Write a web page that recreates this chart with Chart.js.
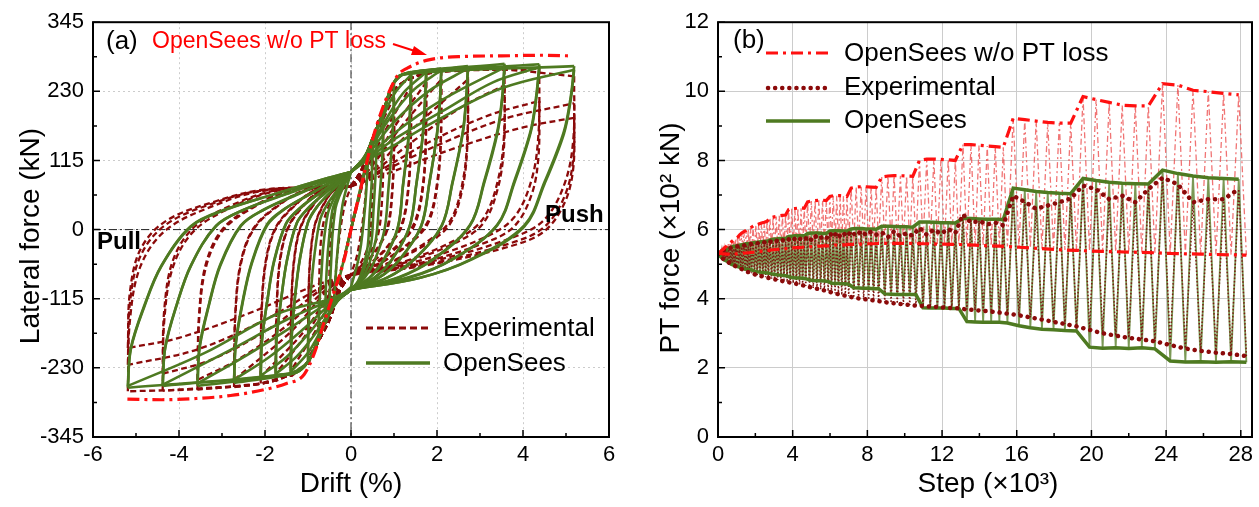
<!DOCTYPE html>
<html><head><meta charset="utf-8">
<script src="https://cdn.jsdelivr.net/npm/chart.js@4.4.0/dist/chart.umd.min.js"></script>
<style>
html,body{margin:0;padding:0;background:#fff;width:1259px;height:507px;overflow:hidden}
#ca{position:absolute;left:0;top:0}
#cb{position:absolute;left:630px;top:0}
</style></head><body>
<canvas id="ca" width="630" height="507"></canvas>
<canvas id="cb" width="629" height="507"></canvas>
<script>
// ---------------- Panel (a): hysteresis ----------------
const driftTicks = [-6,-4,-2,0,2,4,6];
const driftMinor = [-5,-3,-1,1,3,5];
const forceTicks = [-345,-230,-115,0,115,230,345];
const forceMinor = [-287.5,-172.5,-57.5,57.5,172.5,287.5];

// OpenSees w/o PT loss (envelope visible in the figure)
const noLossDrift = [-5.2,-4.4,-3.6,-2.8,-2.0,-1.5,-1.09,-0.85,-0.62,-0.4,-0.155,0,0.2,0.47,0.7,0.93,1.1,1.32,1.78,2.63,3.5,4.4,5.12];
const noLossForce = [-282,-283,-281,-276,-266,-256,-241,-205,-153,-105,-49,0,60,142,195,236,258,269,282,288,289,290,289];

// OpenSees (green) branches [drift %, force kN]
const openSeesLoops = [
 [[-0.1,-30],[0.1,32]],
 [[-0.3,-90],[0,0],[0.3,95]],
 [[0,0],[0.2,60],[0.4,122]],
 [[0.4,122],[0.33,40],[0.2,-40],[0,-96]],
 [[0,-96],[-0.2,-108],[-0.4,-128]],
 [[-0.4,-128],[-0.33,-50],[-0.2,40],[0,96]],
 [[0,96],[0.3,118],[0.5,152]],
 [[0.5,152],[0.49,118],[0.48,78],[0.43,22],[0.39,-27],[0.27,-66],[0.16,-86],[0,-100]],
 [[0,-100],[-0.35,-120],[-0.5,-141]],
 [[-0.5,-141],[-0.49,-99],[-0.46,-51],[-0.43,-8],[-0.36,36],[-0.28,54],[-0.17,72],[-0.06,88],[0,96]],
 [[0,96],[0.3,118],[0.55,160],[0.6,168]],
 [[0.6,168],[0.59,131],[0.57,90],[0.52,29],[0.47,-23],[0.32,-63],[0.19,-85],[0,-100]],
 [[0,-100],[-0.35,-120],[-0.6,-155]],
 [[-0.6,-155],[-0.59,-110],[-0.56,-60],[-0.51,-14],[-0.43,33],[-0.34,51],[-0.21,70],[-0.07,88],[0,96]],
 [[0,96],[0.3,118],[0.55,160],[0.75,195]],
 [[0.75,195],[0.74,155],[0.72,109],[0.65,42],[0.58,-15],[0.41,-60],[0.23,-84],[0,-100]],
 [[0,-100],[-0.35,-120],[-0.6,-155],[-0.75,-181]],
 [[-0.75,-181],[-0.74,-132],[-0.69,-76],[-0.64,-25],[-0.54,26],[-0.43,47],[-0.26,68],[-0.09,87],[0,96]],
 [[0,96],[0.3,118],[0.55,160],[0.75,195],[0.95,238],[1.0,243]],
 [[1.0,243],[0.985,196],[0.954,143],[0.867,65],[0.776,-1],[0.54,-53],[0.31,-81],[0,-100]],
 [[0,-100],[-0.35,-120],[-0.6,-155],[-0.8,-190],[-1.0,-220]],
 [[-1.0,-220],[-0.99,-164],[-0.93,-100],[-0.85,-42],[-0.72,16],[-0.57,40],[-0.34,64],[-0.12,86],[0,96]],
 [[0,96],[0.3,118],[0.55,160],[0.75,195],[0.95,238],[1.2,258],[1.4,262]],
 [[1.4,262],[1.38,212],[1.34,156],[1.21,75],[1.09,4],[0.76,-50],[0.43,-80],[0,-100]],
 [[0,-100],[-0.35,-120],[-0.6,-155],[-0.8,-190],[-1.0,-220],[-1.3,-236],[-1.4,-238]],
 [[-1.4,-238],[-1.38,-179],[-1.3,-111],[-1.19,-50],[-1.0,12],[-0.8,37],[-0.48,62],[-0.17,85],[0,96]],
 [[0,96],[0.3,120],[0.65,172],[1.0,225],[1.4,258]],
 [[1.4,258],[1.38,209],[1.34,153],[1.21,73],[1.09,3],[0.76,-51],[0.43,-80],[0,-100]],
 [[0,-100],[-0.35,-122],[-0.7,-168],[-1.0,-205],[-1.4,-236]],
 [[-1.4,-236],[-1.38,-177],[-1.3,-110],[-1.19,-49],[-1.0,12],[-0.8,37],[-0.48,62],[-0.17,85],[0,96]],
 [[0,96],[0.3,118],[0.55,160],[0.75,195],[0.95,238],[1.2,258],[1.75,265]],
 [[1.75,265],[1.72,215],[1.67,158],[1.52,76],[1.36,5],[0.95,-50],[0.54,-80],[0,-100]],
 [[0,-100],[-0.35,-120],[-0.6,-155],[-0.8,-190],[-1.0,-220],[-1.3,-238],[-1.75,-242]],
 [[-1.75,-242],[-1.73,-182],[-1.62,-114],[-1.49,-52],[-1.26,11],[-0.99,36],[-0.6,61],[-0.21,85],[0,96]],
 [[0,96],[0.3,120],[0.75,175],[1.2,226],[1.75,262]],
 [[1.75,262],[1.72,212],[1.67,156],[1.52,75],[1.36,4],[0.95,-50],[0.54,-80],[0,-100]],
 [[0,-100],[-0.35,-122],[-0.8,-170],[-1.25,-210],[-1.75,-240]],
 [[-1.75,-240],[-1.73,-180],[-1.62,-113],[-1.49,-51],[-1.26,11],[-0.99,36],[-0.6,61],[-0.21,85],[0,96]],
 [[0,96],[0.3,118],[0.55,160],[0.75,195],[0.95,238],[1.2,258],[2.1,268]],
 [[2.1,268],[2.07,218],[2.0,160],[1.82,77],[1.63,6],[1.13,-50],[0.65,-80],[0,-100]],
 [[0,-100],[-0.35,-120],[-0.6,-155],[-0.8,-190],[-1.0,-220],[-1.3,-238],[-2.1,-246]],
 [[-2.1,-246],[-2.07,-185],[-1.94,-116],[-1.79,-54],[-1.51,10],[-1.19,35],[-0.72,61],[-0.25,85],[0,96]],
 [[0,96],[0.3,118],[0.85,180],[1.45,232],[2.1,265]],
 [[2.1,265],[2.07,215],[2.0,158],[1.82,76],[1.63,5],[1.13,-50],[0.65,-80],[0,-100]],
 [[0,-100],[-0.4,-122],[-0.95,-170],[-1.5,-212],[-2.1,-243]],
 [[-2.1,-243],[-2.07,-183],[-1.94,-115],[-1.79,-52],[-1.51,10],[-1.19,36],[-0.72,61],[-0.25,85],[0,96]],
 [[0,96],[0.3,118],[0.55,160],[0.75,195],[0.95,238],[1.2,258],[2.72,272]],
 [[2.72,272],[2.68,221],[2.6,163],[2.36,79],[2.11,7],[1.47,-49],[0.84,-80],[0,-100]],
 [[0,-100],[-0.35,-120],[-0.6,-155],[-0.8,-190],[-1.0,-220],[-1.3,-238],[-2.72,-255]],
 [[-2.72,-255],[-2.68,-192],[-2.52,-122],[-2.31,-57],[-1.95,7],[-1.55,34],[-0.93,60],[-0.33,84],[0,96]],
 [[0,96],[0.3,116],[0.95,175],[1.8,230],[2.72,268]],
 [[2.72,268],[2.68,218],[2.6,160],[2.36,77],[2.11,6],[1.47,-50],[0.84,-80],[0,-100]],
 [[0,-100],[-0.45,-122],[-1.1,-165],[-1.9,-212],[-2.72,-250]],
 [[-2.72,-250],[-2.68,-188],[-2.52,-119],[-2.31,-55],[-1.95,9],[-1.55,34],[-0.93,60],[-0.33,85],[0,96]],
 [[0,96],[0.3,118],[0.55,160],[0.75,195],[0.95,238],[1.2,258],[3.57,276]],
 [[3.57,276],[3.52,224],[3.41,166],[3.1,81],[2.77,8],[1.93,-48],[1.11,-79],[0,-100]],
 [[0,-100],[-0.35,-120],[-0.6,-155],[-0.8,-190],[-1.0,-220],[-1.3,-238],[-3.57,-260]],
 [[-3.57,-260],[-3.52,-197],[-3.3,-125],[-3.04,-60],[-2.56,6],[-2.03,33],[-1.22,59],[-0.43,84],[0,96]],
 [[0,96],[0.3,114],[1.0,160],[2.1,215],[3.57,270]],
 [[3.57,270],[3.52,219],[3.41,162],[3.1,78],[2.77,7],[1.93,-49],[1.11,-80],[0,-100]],
 [[0,-100],[-0.5,-120],[-1.3,-158],[-2.4,-208],[-3.57,-256]],
 [[-3.57,-256],[-3.52,-193],[-3.3,-123],[-3.04,-58],[-2.56,7],[-2.03,33],[-1.22,60],[-0.43,84],[0,96]],
 [[0,96],[0.3,118],[0.55,160],[0.75,195],[0.95,238],[1.2,258],[4.38,275]],
 [[4.38,275],[4.31,224],[4.18,165],[3.8,81],[3.4,8],[2.37,-49],[1.36,-79],[0,-100]],
 [[0,-100],[-0.35,-120],[-0.6,-155],[-0.8,-190],[-1.0,-220],[-1.3,-238],[-4.38,-260]],
 [[-4.38,-260],[-4.32,-197],[-4.05,-125],[-3.72,-60],[-3.14,6],[-2.49,33],[-1.5,59],[-0.53,84],[0,96]],
 [[0,96],[0.3,112],[1.0,150],[2.2,200],[3.3,245],[4.38,270]],
 [[4.38,270],[4.31,219],[4.18,162],[3.8,78],[3.4,7],[2.37,-49],[1.36,-80],[0,-100]],
 [[0,-100],[-0.5,-118],[-1.5,-150],[-2.8,-200],[-4.38,-258]],
 [[-4.38,-258],[-4.32,-195],[-4.05,-124],[-3.72,-59],[-3.14,6],[-2.49,33],[-1.5,60],[-0.53,84],[0,96]],
 [[0,96],[0.3,118],[0.55,160],[0.75,195],[0.95,238],[1.2,258],[5.19,272]],
 [[5.19,272],[5.11,221],[4.95,163],[4.5,79],[4.03,7],[2.8,-49],[1.61,-80],[0,-100]],
 [[0,-100],[-0.35,-120],[-0.6,-155],[-0.8,-190],[-1.0,-220],[-1.3,-238],[-5.19,-263]],
 [[-5.19,-263],[-5.12,-199],[-4.8,-127],[-4.41,-61],[-3.72,5],[-2.95,32],[-1.78,59],[-0.62,84],[0,96]],
 [[0,96],[0.3,112],[1.0,140],[1.9,178],[3.5,235],[5.19,266]],
 [[5.19,266],[5.11,216],[4.95,159],[4.5,76],[4.03,5],[2.8,-50],[1.61,-80],[0,-100]],
 [[0,-100],[-0.5,-116],[-1.7,-140],[-3.4,-205],[-5.19,-260]],
 [[-5.19,-260],[-5.12,-197],[-4.8,-125],[-4.41,-60],[-3.72,6],[-2.95,33],[-1.78,59],[-0.62,84],[0,96]]
];

// Experimental branches [drift %, force kN]
const experimentalLoops = [
 [[-0.15,-45],[0.15,48]],
 [[-0.3,-85],[0,0],[0.3,90]],
 [[0,0],[0.2,55],[0.4,115]],
 [[0.4,115],[0.3,30],[0.15,-40],[0,-75]],
 [[0,-75],[-0.2,-90],[-0.4,-118]],
 [[-0.4,-118],[-0.3,-30],[-0.15,40],[0,72]],
 [[0,72],[0.25,100],[0.5,140]],
 [[0.5,140],[0.5,72],[0.48,24],[0.43,-16],[0.36,-36],[0.18,-61],[0.03,-73],[0,-75]],
 [[0,-75],[-0.25,-100],[-0.5,-140]],
 [[-0.5,-140],[-0.5,-66],[-0.47,-10],[-0.41,27],[-0.3,53],[-0.2,67],[-0.08,71],[0,72]],
 [[0,72],[0.25,100],[0.5,150],[0.75,190]],
 [[0.75,190],[0.75,106],[0.72,47],[0.65,-2],[0.53,-27],[0.27,-57],[0.05,-73],[0,-75]],
 [[0,-75],[-0.25,-100],[-0.5,-150],[-0.75,-185]],
 [[-0.75,-185],[-0.74,-95],[-0.71,-28],[-0.62,18],[-0.45,49],[-0.3,66],[-0.11,71],[0,72]],
 [[0,72],[0.25,100],[0.5,150],[0.75,200],[1.0,235]],
 [[1.0,235],[1.0,136],[0.96,68],[0.87,11],[0.71,-19],[0.36,-54],[0.06,-72],[0,-75]],
 [[0,-75],[-0.25,-100],[-0.5,-150],[-0.75,-185],[-1.0,-225]],
 [[-1.0,-225],[-0.99,-121],[-0.94,-43],[-0.83,9],[-0.6,46],[-0.4,65],[-0.15,71],[0,72]],
 [[0,72],[0.3,100],[0.6,160],[1.0,220]],
 [[1.0,220],[1.0,126],[0.96,61],[0.87,6],[0.71,-21],[0.36,-55],[0.06,-72],[0,-75]],
 [[0,-75],[-0.3,-100],[-0.6,-160],[-1.0,-215]],
 [[-1.0,-215],[-0.99,-115],[-0.94,-39],[-0.83,11],[-0.6,47],[-0.4,65],[-0.15,71],[0,72]],
 [[0,72],[0.25,100],[0.5,150],[0.75,200],[1.0,232],[1.4,255]],
 [[1.4,255],[1.39,150],[1.34,77],[1.21,16],[0.99,-15],[0.5,-53],[0.08,-72],[0,-75]],
 [[0,-75],[-0.25,-100],[-0.5,-150],[-0.75,-185],[-1.0,-220],[-1.4,-245]],
 [[-1.4,-245],[-1.39,-134],[-1.32,-51],[-1.16,5],[-0.84,44],[-0.56,65],[-0.21,71],[0,72]],
 [[0,72],[0.35,100],[0.8,165],[1.4,240]],
 [[1.4,240],[1.39,140],[1.34,70],[1.21,12],[0.99,-18],[0.5,-54],[0.08,-72],[0,-75]],
 [[0,-75],[-0.35,-100],[-0.8,-165],[-1.4,-235]],
 [[-1.4,-235],[-1.39,-128],[-1.32,-47],[-1.16,7],[-0.84,45],[-0.56,65],[-0.21,71],[0,72]],
 [[0,72],[0.25,100],[0.5,150],[0.75,200],[1.0,232],[1.4,252],[1.75,262]],
 [[1.75,262],[1.74,155],[1.68,80],[1.51,18],[1.24,-14],[0.63,-52],[0.1,-72],[0,-75]],
 [[0,-75],[-0.25,-100],[-0.5,-150],[-0.75,-185],[-1.0,-220],[-1.4,-240],[-1.75,-252]],
 [[-1.75,-252],[-1.73,-139],[-1.65,-53],[-1.45,4],[-1.05,44],[-0.7,65],[-0.26,71],[0,72]],
 [[0,72],[0.4,100],[1.0,170],[1.75,245]],
 [[1.75,245],[1.74,143],[1.68,73],[1.51,13],[1.24,-17],[0.63,-54],[0.1,-72],[0,-75]],
 [[0,-75],[-0.4,-100],[-1.0,-170],[-1.75,-240]],
 [[-1.75,-240],[-1.73,-131],[-1.65,-49],[-1.45,6],[-1.05,45],[-0.7,65],[-0.26,71],[0,72]],
 [[0,72],[0.25,100],[0.5,150],[0.75,200],[1.0,232],[1.4,252],[2.1,266]],
 [[2.1,266],[2.09,158],[2.01,82],[1.82,19],[1.49,-13],[0.76,-52],[0.13,-72],[0,-75]],
 [[0,-75],[-0.25,-100],[-0.5,-150],[-0.75,-185],[-1.0,-220],[-1.4,-240],[-2.1,-256]],
 [[-2.1,-256],[-2.08,-142],[-1.98,-55],[-1.74,3],[-1.26,43],[-0.84,65],[-0.32,71],[0,72]],
 [[0,72],[0.4,98],[1.1,165],[2.1,250]],
 [[2.1,250],[2.09,147],[2.01,75],[1.82,15],[1.49,-16],[0.76,-53],[0.13,-72],[0,-75]],
 [[0,-75],[-0.4,-98],[-1.1,-170],[-2.1,-245]],
 [[-2.1,-245],[-2.08,-134],[-1.98,-51],[-1.74,5],[-1.26,44],[-0.84,65],[-0.32,71],[0,72]],
 [[0,72],[0.25,100],[0.5,150],[0.75,200],[1.0,232],[1.4,252],[2.0,262],[2.72,270]],
 [[2.72,270],[2.71,160],[2.61,84],[2.35,20],[1.93,-12],[0.98,-52],[0.16,-72],[0,-75]],
 [[0,-75],[-0.25,-100],[-0.5,-150],[-0.75,-185],[-1.0,-220],[-1.4,-240],[-2.0,-255],[-2.72,-262]],
 [[-2.72,-262],[-2.69,-145],[-2.56,-57],[-2.25,2],[-1.63,43],[-1.09,64],[-0.41,71],[0,72]],
 [[0,72],[0.5,98],[1.4,165],[2.72,250]],
 [[2.72,250],[2.71,147],[2.61,75],[2.35,15],[1.93,-16],[0.98,-53],[0.16,-72],[0,-75]],
 [[0,-75],[-0.5,-98],[-1.4,-170],[-2.72,-250]],
 [[-2.72,-250],[-2.69,-138],[-2.56,-53],[-2.25,4],[-1.63,44],[-1.09,65],[-0.41,71],[0,72]],
 [[0,72],[0.25,100],[0.5,150],[0.75,200],[1.0,232],[1.4,252],[2.0,262],[3.57,268]],
 [[3.57,268],[3.56,159],[3.42,83],[3.09,20],[2.54,-13],[1.29,-52],[0.21,-72],[0,-75]],
 [[0,-75],[-0.25,-100],[-0.5,-150],[-0.75,-185],[-1.0,-220],[-1.4,-240],[-2.0,-255],[-3.57,-266]],
 [[-3.57,-266],[-3.53,-148],[-3.36,-59],[-2.95,1],[-2.14,42],[-1.43,64],[-0.54,71],[0,72]],
 [[0,72],[0.5,95],[1.5,150],[2.6,205],[3.57,240]],
 [[3.57,240],[3.56,140],[3.42,70],[3.09,12],[2.54,-18],[1.29,-54],[0.21,-72],[0,-75]],
 [[0,-75],[-0.5,-95],[-1.5,-160],[-2.6,-215],[-3.57,-250]],
 [[-3.57,-250],[-3.53,-138],[-3.36,-53],[-2.95,4],[-2.14,44],[-1.43,65],[-0.54,71],[0,72]],
 [[0,72],[0.25,100],[0.5,150],[0.75,200],[1.0,232],[1.4,252],[2.0,262],[4.38,268]],
 [[4.38,268],[4.36,159],[4.2,83],[3.79,20],[3.11,-13],[1.58,-52],[0.26,-72],[0,-75]],
 [[0,-75],[-0.25,-100],[-0.5,-150],[-0.75,-185],[-1.0,-220],[-1.4,-240],[-2.0,-255],[-4.38,-268]],
 [[-4.38,-268],[-4.34,-149],[-4.13,-60],[-3.62,0],[-2.63,42],[-1.75,64],[-0.66,71],[0,72]],
 [[0,72],[0.6,95],[1.8,145],[3.2,190],[4.38,214]],
 [[4.38,214],[4.36,122],[4.2,58],[3.79,5],[3.11,-22],[1.58,-56],[0.26,-72],[0,-75]],
 [[0,-75],[-0.6,-95],[-1.8,-160],[-3.2,-215],[-4.38,-240]],
 [[-4.38,-240],[-4.34,-131],[-4.13,-49],[-3.62,6],[-2.63,45],[-1.75,65],[-0.66,71],[0,72]],
 [[0,72],[0.25,100],[0.5,150],[0.75,200],[1.0,232],[1.4,252],[2.0,262],[3.5,266],[5.19,255]],
 [[5.19,255],[5.17,150],[4.97,77],[4.49,16],[3.69,-15],[1.87,-53],[0.31,-72],[0,-75]],
 [[0,-75],[-0.25,-100],[-0.5,-150],[-0.75,-185],[-1.0,-220],[-1.4,-240],[-2.0,-255],[-3.5,-265],[-5.19,-269]],
 [[-5.19,-269],[-5.14,-150],[-4.89,-60],[-4.29,0],[-3.11,42],[-2.08,64],[-0.78,71],[0,72]],
 [[0,72],[0.6,92],[2.0,140],[3.6,185],[5.19,210]],
 [[5.19,210],[5.17,119],[4.97,56],[4.49,4],[3.69,-23],[1.87,-56],[0.31,-72],[0,-75]],
 [[0,-75],[-0.6,-92],[-2.0,-150],[-3.6,-200],[-5.19,-225]],
 [[-5.19,-225],[-5.14,-121],[-4.89,-43],[-4.29,9],[-3.11,46],[-2.08,65],[-0.78,71],[0,72]],
 [[0,72],[0.8,92],[2.4,135],[4.0,170],[5.19,186]],
 [[5.19,186],[5.17,103],[4.97,45],[4.49,-3],[3.69,-28],[1.87,-58],[0.31,-73],[0,-75]],
 [[0,-75],[-0.8,-92],[-2.4,-140],[-4.0,-180],[-5.19,-197]],
 [[-5.19,-197],[-5.14,-103],[-4.89,-32],[-4.29,15],[-3.11,48],[-2.08,66],[-0.78,71],[0,72]]
];

// ---------------- Panel (b): PT force history ----------------
const stepTicks = [0,4,8,12,16,20,24,28];
const stepMinor = [2,6,10,14,18,22,26];
const ptTicks = [0,2,4,6,8,10,12];
const ptMinor = [1,3,5,7,9,11];

// step (x10^3) of each PT force peak and of each return (valley)
const peakSteps = [
 0.04,0.12,0.21,0.29,0.37,0.46, 0.55,0.65,0.75,0.85,0.95,1.05, 1.16,1.27,1.39,1.51,1.62,1.74,
 1.88,2.03,2.18,2.33,2.48,2.63, 2.78,2.95,3.12,3.28,3.45,3.62, 3.78,3.95,4.12,4.28,4.45,4.62,
 4.8,5.0,5.2,5.4,5.6,5.8, 5.99,6.17,6.36,6.54,6.72,6.91, 7.13,7.4,7.67,7.93,8.2,8.47,
 8.77,9.1,9.43,9.77,10.1,10.43, 10.79,11.18,11.56,11.94,12.33,12.71, 13.12,13.55,13.98,14.42,14.85,15.28,
 15.81,16.43,17.04,17.66,18.28,18.89, 19.55,20.25,20.95,21.65,22.35,23.05, 23.81,24.63,25.44,26.26,27.08,27.89];
const valleySteps = [0,
 0.08,0.17,0.25,0.33,0.42,0.5, 0.6,0.7,0.8,0.9,1.0,1.1, 1.22,1.33,1.45,1.57,1.68,1.8,
 1.95,2.1,2.25,2.4,2.55,2.7, 2.87,3.03,3.2,3.37,3.53,3.7, 3.87,4.03,4.2,4.37,4.53,4.7,
 4.9,5.1,5.3,5.5,5.7,5.9, 6.08,6.27,6.45,6.63,6.82,7.0, 7.27,7.53,7.8,8.07,8.33,8.6,
 8.93,9.27,9.6,9.93,10.27,10.6, 10.98,11.37,11.75,12.13,12.52,12.9, 13.33,13.77,14.2,14.63,15.07,15.5,
 16.12,16.73,17.35,17.97,18.58,19.2, 19.9,20.6,21.3,22.0,22.7,23.4, 24.22,25.03,25.85,26.67,27.48,28.3];

// OpenSees w/o PT loss (x10^2 kN)
const noLossPeak = [
 5.32,5.36,5.4,5.44,5.48,5.52, 5.58,5.62,5.66,5.7,5.74,5.78, 5.85,5.9,5.94,5.98,6.02,6.05,
 6.1,6.13,6.16,6.19,6.21,6.24, 6.34,6.36,6.38,6.4,6.41,6.42, 6.58,6.6,6.61,6.62,6.62,6.62,
 6.8,6.83,6.84,6.85,6.85,6.84, 6.96,6.98,6.98,6.98,6.97,6.96, 7.2,7.23,7.24,7.24,7.23,7.22,
 7.52,7.55,7.56,7.56,7.55,7.54, 8.0,8.04,8.04,8.03,8.02,8.0, 8.46,8.46,8.44,8.42,8.4,8.38,
 9.22,9.18,9.14,9.1,9.08,9.08, 9.85,9.76,9.68,9.6,9.58,9.58, 10.22,10.18,10.03,9.99,9.94,9.9];
const noLossValley = [5.3,
 5.32,5.31,5.3,5.3,5.29,5.29, 5.29,5.29,5.3,5.3,5.3,5.31, 5.31,5.32,5.32,5.33,5.33,5.34,
 5.35,5.36,5.37,5.38,5.39,5.4, 5.41,5.42,5.43,5.44,5.45,5.45, 5.46,5.47,5.48,5.48,5.49,5.49,
 5.5,5.51,5.52,5.52,5.53,5.53, 5.54,5.55,5.55,5.56,5.56,5.57, 5.57,5.58,5.58,5.59,5.59,5.6,
 5.6,5.6,5.6,5.6,5.6,5.6, 5.59,5.59,5.58,5.58,5.57,5.57, 5.56,5.55,5.54,5.53,5.52,5.51,
 5.49,5.47,5.45,5.43,5.41,5.4, 5.38,5.37,5.36,5.35,5.34,5.33, 5.31,5.3,5.29,5.28,5.27,5.26];

// Experimental (x10^2 kN)
const expPeak = [
 5.3,5.35,5.38,5.4,5.42,5.44, 5.45,5.47,5.48,5.5,5.5,5.52, 5.52,5.55,5.54,5.56,5.55,5.58,
 5.6,5.58,5.62,5.6,5.63,5.6, 5.66,5.62,5.68,5.64,5.7,5.65, 5.72,5.66,5.74,5.68,5.75,5.7,
 5.8,5.7,5.82,5.72,5.8,5.74, 5.9,5.78,5.92,5.8,5.9,5.8, 5.95,5.82,5.96,5.84,5.94,5.85,
 5.92,5.78,5.95,5.8,5.9,5.82, 6.05,5.85,6.0,5.88,6.02,5.9, 6.44,6.2,6.25,6.15,6.2,6.12,
 6.98,6.8,6.6,6.7,6.79,6.9, 7.27,7.17,6.88,6.98,6.79,7.17, 7.5,7.31,6.79,6.88,6.88,7.17];
const expValley = [5.3,
 5.24,5.2,5.17,5.14,5.11,5.08, 5.04,5.01,4.98,4.95,4.92,4.9, 4.87,4.84,4.81,4.78,4.76,4.74,
 4.71,4.68,4.66,4.64,4.62,4.6, 4.58,4.56,4.54,4.52,4.5,4.48, 4.47,4.45,4.43,4.41,4.39,4.37,
 4.34,4.31,4.29,4.27,4.24,4.22, 4.18,4.16,4.13,4.11,4.09,4.07, 4.03,4.01,3.99,3.97,3.95,3.93,
 3.9,3.88,3.86,3.84,3.82,3.8, 3.79,3.77,3.76,3.74,3.73,3.72, 3.69,3.67,3.65,3.63,3.6,3.57,
 3.52,3.46,3.4,3.33,3.27,3.2, 3.1,3.0,2.93,2.87,2.82,2.77, 2.66,2.56,2.49,2.44,2.4,2.34];

// OpenSees (x10^2 kN)
const osPeak = [
 5.3,5.34,5.38,5.4,5.42,5.44, 5.46,5.48,5.5,5.52,5.53,5.54, 5.55,5.56,5.58,5.59,5.6,5.6,
 5.62,5.63,5.64,5.65,5.66,5.66, 5.7,5.72,5.73,5.74,5.74,5.74, 5.8,5.81,5.82,5.82,5.82,5.82,
 5.89,5.9,5.9,5.9,5.89,5.89, 5.96,5.97,5.97,5.97,5.96,5.96, 6.02,6.03,6.03,6.02,6.02,6.01,
 6.1,6.1,6.09,6.08,6.08,6.07, 6.22,6.22,6.21,6.2,6.2,6.19, 6.33,6.32,6.31,6.3,6.3,6.29,
 7.2,7.15,7.1,7.07,7.05,7.04, 7.48,7.42,7.37,7.34,7.33,7.32, 7.72,7.62,7.55,7.5,7.48,7.46];
const osValley = [5.3,
 5.25,5.2,5.16,5.12,5.1,5.08, 5.04,5.0,4.98,4.96,4.94,4.92, 4.9,4.88,4.86,4.85,4.84,4.83,
 4.8,4.78,4.77,4.76,4.75,4.74, 4.72,4.7,4.69,4.68,4.67,4.66, 4.62,4.61,4.6,4.6,4.59,4.58,
 4.54,4.53,4.52,4.52,4.51,4.5, 4.45,4.44,4.44,4.43,4.43,4.42, 4.32,4.31,4.3,4.3,4.29,4.29,
 4.14,4.13,4.12,4.12,4.12,4.12, 3.74,3.73,3.73,3.73,3.72,3.72, 3.34,3.33,3.32,3.32,3.32,3.3,
 3.22,3.16,3.12,3.1,3.08,3.07, 2.6,2.57,2.58,2.56,2.58,2.55, 2.2,2.17,2.18,2.16,2.18,2.16];

// ---------------- styling ----------------
const FONT = "'Liberation Sans', Arial, Helvetica, sans-serif";
const C_EXP = '#8b0a0a', C_OS = '#4e7a21', C_RED = '#ff1010';
const DASHDOT = [12,5,3,5];

function branchSets(loops, style){
  return loops.map(b => Object.assign({ label:'', data: b.map(p => ({x:p[0], y:p[1]})),
    showLine:true, pointRadius:0, fill:false, tension:0.35, borderJoinStyle:'round' }, style));
}
function zig(valleys, peaks){
  const out = [];
  for (let i = 0; i < peaks.length; i++){ out.push({x:valleySteps[i], y:valleys[i]}); out.push({x:peakSteps[i], y:peaks[i]}); }
  out.push({x:valleySteps[peaks.length], y:valleys[peaks.length]});
  return out;
}
function upperEnv(valleys, peaks){ return [{x:valleySteps[0], y:valleys[0]}].concat(peaks.map((v,i)=>({x:peakSteps[i], y:v}))); }
function lowerEnv(valleys){ return valleys.map((v,i)=>({x:valleySteps[i], y:v})); }

function txt(ctx, s, x, y, font, color, align, rot){
  ctx.save(); ctx.font = font; ctx.fillStyle = color; ctx.textAlign = align || 'left'; ctx.textBaseline = 'middle';
  ctx.translate(x, y); if (rot) ctx.rotate(rot); ctx.fillText(s, 0, 0); ctx.restore();
}
function seg(ctx, x1, y1, x2, y2, color, w, dash, cap){
  ctx.save(); ctx.strokeStyle = color; ctx.lineWidth = w; ctx.setLineDash(dash || []); ctx.lineCap = cap || 'butt';
  ctx.beginPath(); ctx.moveTo(x1, y1); ctx.lineTo(x2, y2); ctx.stroke(); ctx.restore();
}
function frameAndTicks(chart, xMaj, xMin, yMaj, yMin){
  const ctx = chart.ctx, ca = chart.chartArea, xs = chart.scales.x, ys = chart.scales.y;
  ctx.save(); ctx.strokeStyle = '#000'; ctx.setLineDash([]); ctx.lineWidth = 1.5; ctx.beginPath();
  xMaj.forEach(v => { const p = xs.getPixelForValue(v); ctx.moveTo(p, ca.bottom); ctx.lineTo(p, ca.bottom - 7); });
  xMin.forEach(v => { const p = xs.getPixelForValue(v); ctx.moveTo(p, ca.bottom); ctx.lineTo(p, ca.bottom - 4); });
  yMaj.forEach(v => { const p = ys.getPixelForValue(v); ctx.moveTo(ca.left, p); ctx.lineTo(ca.left + 7, p); });
  yMin.forEach(v => { const p = ys.getPixelForValue(v); ctx.moveTo(ca.left, p); ctx.lineTo(ca.left + 4, p); });
  ctx.stroke();
  ctx.lineWidth = 2; ctx.strokeRect(ca.left, ca.top, ca.right - ca.left, ca.bottom - ca.top);
  ctx.restore();
}
function axisCfg(min, max, ticksArr, isY, fitSize){
  return {
    type:'linear', min:min, max:max,
    afterBuildTicks: s => { s.ticks = ticksArr.map(v => ({value:v})); },
    afterFit: s => { if (isY) s.width = fitSize; else s.height = fitSize; },
    ticks: { font:{family:FONT, size:22}, color:'#000', padding: isY ? 9 : 5, maxRotation:0, autoSkip:false, callback: v => String(v) },
    grid: { color:'#cccccc', lineWidth:1, drawTicks:false },
    border: { display:false }
  };
}

// ---------------- Chart (a) ----------------
const decorA = {
  id:'decorA',
  beforeDatasetsDraw(chart){
    const ctx = chart.ctx, ca = chart.chartArea;
    const x0 = chart.scales.x.getPixelForValue(0), y0 = chart.scales.y.getPixelForValue(0);
    seg(ctx, x0, ca.top, x0, ca.bottom, '#222', 1, [8,3,2,3]);
    seg(ctx, ca.left, y0, ca.right, y0, '#222', 1, [8,3,2,3]);
  },
  afterDraw(chart){
    const ctx = chart.ctx;
    frameAndTicks(chart, driftTicks, driftMinor, forceTicks, forceMinor);
    txt(ctx, 'Drift (%)', 351, 484, '28px ' + FONT, '#000', 'center');
    txt(ctx, 'Lateral force (kN)', 31, 236, '28px ' + FONT, '#000', 'center', -Math.PI/2);
    txt(ctx, '(a)', 106, 42, '26px ' + FONT, '#000', 'left');
    txt(ctx, 'OpenSees w/o PT loss', 152, 42, '23px ' + FONT, '#ff0000', 'left');
    // arrow
    seg(ctx, 393, 44, 418, 52, '#ff0000', 2);
    ctx.save(); ctx.fillStyle = '#ff0000'; ctx.beginPath(); ctx.moveTo(427, 55); ctx.lineTo(414, 46); ctx.lineTo(411, 55); ctx.closePath(); ctx.fill(); ctx.restore();
    txt(ctx, 'Push', 545, 215, 'bold 24px ' + FONT, '#000', 'left');
    txt(ctx, 'Pull', 97, 242, 'bold 24px ' + FONT, '#000', 'left');
    // legend
    seg(ctx, 366, 328, 430, 328, C_EXP, 3, [7,4]);
    txt(ctx, 'Experimental', 443, 329, '26px ' + FONT, '#000', 'left');
    seg(ctx, 366, 363, 430, 363, C_OS, 3.5);
    txt(ctx, 'OpenSees', 443, 364, '26px ' + FONT, '#000', 'left');
  }
};

const dsA = []
  .concat(branchSets(experimentalLoops, { borderColor:C_EXP, borderWidth:2.3, borderDash:[6,3.5], order:2 }))
  .concat(branchSets(openSeesLoops, { borderColor:C_OS, borderWidth:2.6, order:1 }))
  .concat([{ label:'OpenSees w/o PT loss', data: noLossDrift.map((d,i)=>({x:d, y:noLossForce[i]})), showLine:true, pointRadius:0,
     fill:false, borderColor:C_RED, borderWidth:3.2, borderDash:DASHDOT, cubicInterpolationMode:'monotone', order:0 }]);

const xA = axisCfg(-6, 6, driftTicks, false, 70); xA.border.dash = [2,3];
const yA = axisCfg(-345, 345, forceTicks, true, 93); yA.border.dash = [2,3];
new Chart(document.getElementById('ca'), {
  type:'scatter',
  data:{ datasets: dsA },
  options:{
    responsive:false, animation:false, devicePixelRatio:1, events:[],
    layout:{ padding:{ left:0, top:18, right:21, bottom:0 } },
    plugins:{ legend:{display:false}, tooltip:{enabled:false} },
    scales:{ x:xA, y:yA }
  },
  plugins:[decorA]
});

// ---------------- Chart (b) ----------------
const decorB = {
  id:'decorB',
  afterDraw(chart){
    const ctx = chart.ctx;
    frameAndTicks(chart, stepTicks, stepMinor, ptTicks, ptMinor);
    txt(ctx, 'Step (×10³)', 358, 484, '28px ' + FONT, '#000', 'center');
    txt(ctx, 'PT force (×10² kN)', 41, 238, '28px ' + FONT, '#000', 'center', -Math.PI/2);
    txt(ctx, '(b)', 103, 41, '26px ' + FONT, '#000', 'left');
    seg(ctx, 136, 53, 200, 53, C_RED, 3.2, DASHDOT);
    txt(ctx, 'OpenSees w/o PT loss', 214, 54, '26px ' + FONT, '#000', 'left');
    seg(ctx, 138, 88, 200, 88, C_EXP, 4.5, [0.1,7], 'round');
    txt(ctx, 'Experimental', 214, 88, '26px ' + FONT, '#000', 'left');
    seg(ctx, 136, 121, 200, 121, C_OS, 3.5);
    txt(ctx, 'OpenSees', 214, 121, '26px ' + FONT, '#000', 'left');
  }
};
function lineDs(data, style){ return Object.assign({ label:'', data:data, showLine:true, pointRadius:0, fill:false, tension:0 }, style); }
const dsB = [
  lineDs(upperEnv(noLossValley, noLossPeak), { borderColor:C_RED, borderWidth:3.2, borderDash:DASHDOT, order:0 }),
  lineDs(lowerEnv(noLossValley), { borderColor:C_RED, borderWidth:3.2, borderDash:DASHDOT, order:0 }),
  lineDs(upperEnv(expValley, expPeak), { borderColor:C_EXP, borderWidth:4.5, borderDash:[0.1,7], borderCapStyle:'round', order:1 }),
  lineDs(lowerEnv(expValley), { borderColor:C_EXP, borderWidth:4.5, borderDash:[0.1,7], borderCapStyle:'round', order:1 }),
  lineDs(upperEnv(osValley, osPeak), { borderColor:C_OS, borderWidth:3.5, order:2 }),
  lineDs(lowerEnv(osValley), { borderColor:C_OS, borderWidth:3.5, order:2 }),
  lineDs(zig(expValley, expPeak), { borderColor:'#7d1a12', borderWidth:1.5, borderDash:[1.5,2], order:3 }),
  lineDs(zig(osValley, osPeak), { borderColor:'rgba(100,135,55,0.85)', borderWidth:1.8, order:4 }),
  lineDs(zig(noLossValley, noLossPeak), { borderColor:'rgba(235,70,70,0.75)', borderWidth:1.3, borderDash:[6,3,2,3], order:5 })
];
const xB = axisCfg(0, 28.6, stepTicks, false, 70);
const yB = axisCfg(0, 12, ptTicks, true, 88);
new Chart(document.getElementById('cb'), {
  type:'scatter',
  data:{ datasets: dsB },
  options:{
    responsive:false, animation:false, devicePixelRatio:1, events:[],
    layout:{ padding:{ left:0, top:18, right:7, bottom:0 } },
    plugins:{ legend:{display:false}, tooltip:{enabled:false} },
    scales:{ x:xB, y:yB }
  },
  plugins:[decorB]
});
</script>
</body></html>
